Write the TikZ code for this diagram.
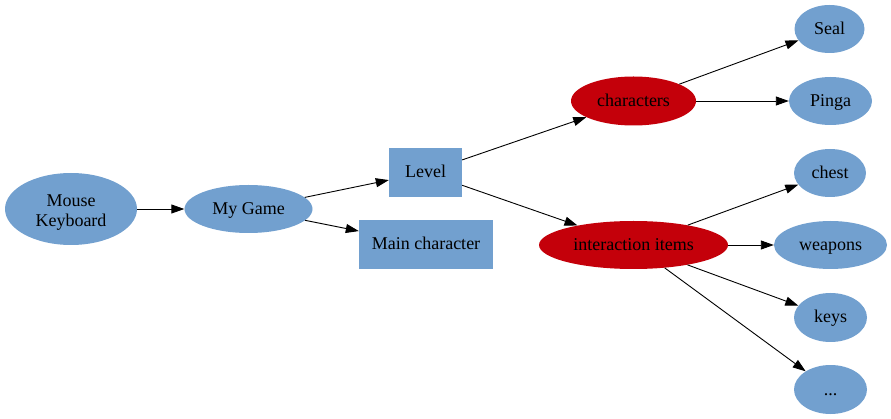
\documentclass[tikz,border=0pt]{standalone}
\usepackage{fontspec}
\setmainfont{Liberation Serif}
\usetikzlibrary{arrows.meta, shapes.geometric}
\definecolor{gvblue}{RGB}{114,160,207}
\definecolor{gvred}{RGB}{196,0,10}
\tikzset{
  oval/.style = {ellipse, fill=gvblue, inner sep=0pt, align=center, text height=15pt, text depth=4pt, font=\fontsize{18}{20}\selectfont},
  hot/.style = {oval, fill=gvred},
  box/.style = {rectangle, fill=gvblue, inner sep=0pt, text height=15pt, text depth=4pt, font=\fontsize{18}{20}\selectfont},
  arr/.style = {-{Triangle[length=13pt,width=9pt]}, line width=0.9pt}
}

\begin{document}
\begin{tikzpicture}[x=1pt, y=-1pt]
\useasboundingbox (0,0) rectangle (891,419);
% Left side
\node[oval, text height=, text depth=, minimum width=132, minimum height=72] (inp) at (71,209) {\rule{0pt}{19pt}Mouse\\Keyboard};
\node[oval, minimum width=128, minimum height=48] (game) at (248.5,209) {My Game};

% Middle boxes
\node[box, minimum width=73, minimum height=49] (lvl) at (425.5,172.5) {Level};
\node[box, minimum width=134, minimum height=49] (hero) at (426,244.5) {Main character};

% Groups
\node[hot, minimum width=125, minimum height=49] (chars) at (633.5,101) {characters};
\node[hot, minimum width=189, minimum height=48] (items) at (633.5,245) {interaction items};

% Leaves
\node[oval, minimum width=70, minimum height=48] (seal) at (829.5,29) {Seal};
\node[oval, minimum width=83, minimum height=48] (pinga) at (830.5,101) {Pinga};
\node[oval, minimum width=72, minimum height=48] (chest) at (830,173) {chest};
\node[oval, minimum width=113, minimum height=48] (weap) at (830.5,245) {weapons};
\node[oval, minimum width=73, minimum height=49] (keys) at (830.5,317.5) {keys};
\node[oval, minimum width=73, minimum height=49] (more) at (830.5,389.5) {...};

% ----- ARROWS -----
\draw[arr] (inp) -- (game);
\draw[arr] (game) -- (lvl);
\draw[arr] (game) -- (hero);
\draw[arr] (lvl) -- (chars);
\draw[arr] (lvl) -- (items);
% characters
\draw[arr] (chars) -- (seal);
\draw[arr] (chars) -- (pinga);
% interaction items
\draw[arr] (items) -- (chest);
\draw[arr] (items) -- (weap);
\draw[arr] (items) -- (keys);
\draw[arr] (items) -- (more);

\end{tikzpicture}
\end{document}
